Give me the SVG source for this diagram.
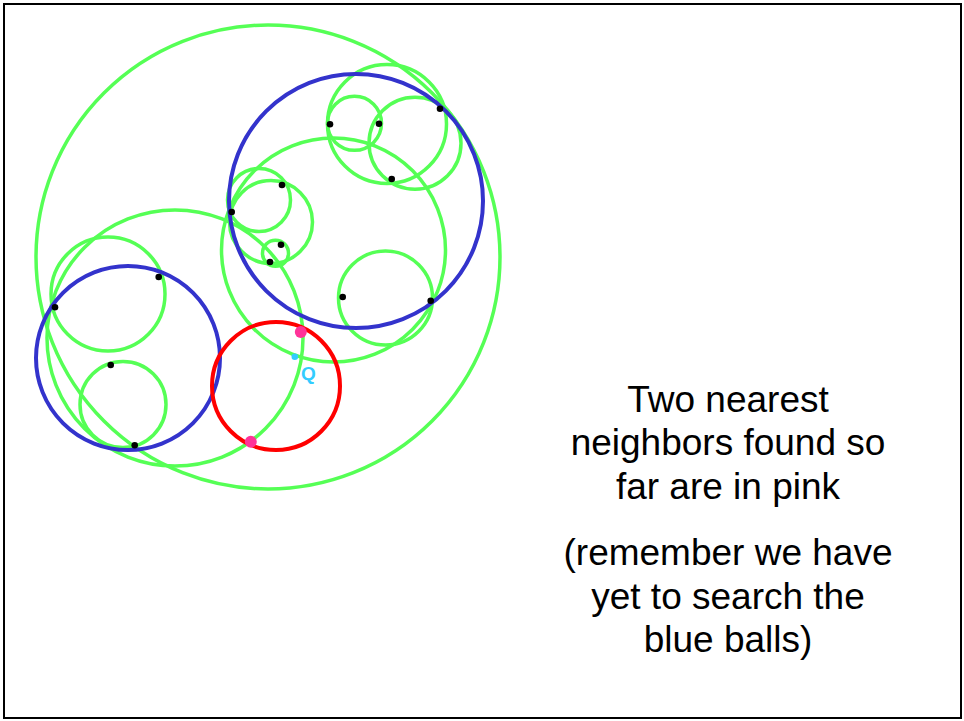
<svg xmlns="http://www.w3.org/2000/svg" width="964" height="721" viewBox="0 0 964 721">
<style>
.g{fill:none;stroke:#55ff55;stroke-width:3.5}
.b{fill:none;stroke:#3333cc;stroke-width:4}
.r{fill:none;stroke:#ff0000;stroke-width:4}
.pt{fill:#000}
.pk{fill:#ff3399}
.t{font-family:"Liberation Sans",Arial,sans-serif;font-size:37px;fill:#000;text-anchor:middle}
</style>
<rect x="0" y="0" width="964" height="721" fill="#fff"/>
<rect x="4" y="4" width="957" height="714" fill="none" stroke="#000" stroke-width="2"/>
<g id="balls">
<circle id="g0" class="g" cx="268" cy="257" r="232"/>
<circle id="g1" class="g" cx="175" cy="338" r="128"/>
<circle id="g2" class="g" cx="108" cy="294" r="57"/>
<circle id="g3" class="g" cx="123" cy="404.5" r="43"/>
<circle id="g4" class="g" cx="333.5" cy="250" r="112"/>
<circle id="g5" class="g" cx="387" cy="124" r="59.5"/>
<circle id="g6" class="g" cx="354.5" cy="123.3" r="27"/>
<circle id="g7" class="g" cx="415" cy="143.3" r="46"/>
<circle id="g8" class="g" cx="259" cy="200" r="31.5"/>
<circle id="g9" class="g" cx="271" cy="222" r="41.5"/>
<circle id="g10" class="g" cx="275.5" cy="253.3" r="13"/>
<circle id="g11" class="g" cx="385.5" cy="298" r="47"/>
<circle id="b0" class="b" cx="356" cy="201" r="127"/>
<circle id="b1" class="b" cx="128" cy="358" r="92"/>
<circle id="red" class="r" cx="276" cy="386" r="64"/>
</g>
<g id="points">
<circle class="pt" cx="330" cy="124.3" r="3.3"/>
<circle class="pt" cx="379" cy="123.7" r="3.3"/>
<circle class="pt" cx="440" cy="108.7" r="3.3"/>
<circle class="pt" cx="391.7" cy="179" r="3.3"/>
<circle class="pt" cx="282" cy="185" r="3.3"/>
<circle class="pt" cx="231.7" cy="212" r="3.3"/>
<circle class="pt" cx="281" cy="244.7" r="3.3"/>
<circle class="pt" cx="270" cy="262" r="3.3"/>
<circle class="pt" cx="342.7" cy="297" r="3.3"/>
<circle class="pt" cx="430.7" cy="300.7" r="3.3"/>
<circle class="pt" cx="158.7" cy="277" r="3.3"/>
<circle class="pt" cx="55" cy="307.3" r="3.3"/>
<circle class="pt" cx="110.7" cy="365" r="3.3"/>
<circle class="pt" cx="134.7" cy="445.3" r="3.3"/>
<circle class="pk" cx="300.8" cy="332" r="6"/>
<circle class="pk" cx="250.8" cy="441.7" r="6"/>
</g>
<g id="query">
<circle cx="294.8" cy="356.7" r="3.3" fill="#33ccff"/>
<text x="301" y="380" font-family="Liberation Sans,Arial,sans-serif" font-weight="bold" font-size="19" fill="#33ccff">Q</text>
</g>
<g id="caption">
<text class="t" x="728" y="411.5">Two nearest</text>
<text class="t" x="728" y="455">neighbors found so</text>
<text class="t" x="728" y="498.5">far are in pink</text>
<text class="t" x="728" y="565">(remember we have</text>
<text class="t" x="728" y="608.5">yet to search the</text>
<text class="t" x="728" y="652">blue balls)</text>
</g>
</svg>
